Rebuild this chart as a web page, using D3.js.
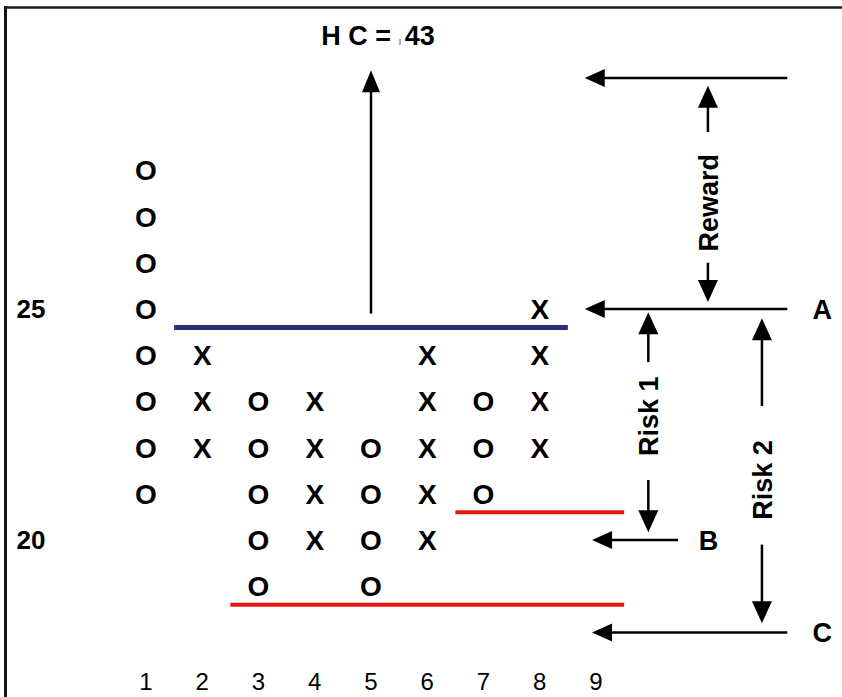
<!DOCTYPE html>
<html>
<head>
<meta charset="utf-8">
<script src="https://cdn.jsdelivr.net/npm/d3@7"></script>
<style>
  html, body { margin: 0; padding: 0; background: #fff; }
  svg { display: block; }
  .mark { font-family: Arial, "Liberation Sans", sans-serif; font-weight: bold; font-size: 28px; }
  .lbl { font-family: Arial, "Liberation Sans", sans-serif; font-weight: bold; }
  .xt { font-family: "Liberation Sans Narrow", "Arial Narrow", Arial, sans-serif; font-size: 24px; }
</style>
</head>
<body>
<div id="chart"></div>
<script>
// point & figure columns
const columns  = [1, 2, 3, 4, 5, 6, 7, 8];
const colType  = ["O", "X", "O", "X", "O", "X", "O", "X"];
const colHigh  = [28, 24, 23, 23, 22, 24, 23, 25];
const colLow   = [21, 22, 19, 20, 19, 20, 21, 22];

const xTicks = [1, 2, 3, 4, 5, 6, 7, 8, 9];
const yTicks = [25, 20];

// trend lines (column units / price units)
const lineFrom  = [1.5, 6.5, 2.5];
const lineTo    = [8.5, 9.5, 9.5];
const linePrice = [24.6, 20.6, 18.6];

// target levels on the right
const levelName  = ["", "A", "B", "C"];
const levelPrice = [30, 25, 20, 18];
const levelTip   = [8.8, 8.8, 8.93, 8.93];
const levelEnd   = [12.4, 12.4, 10.46, 12.4];
const levelLabX  = [0, 13.02, 11, 13.02];

// measuring arrows: col, up tip, up end, text middle, down start, down tip
const measName = ["Reward", "Risk 1", "Risk 2"];
const measCol  = [10.99, 9.93, 11.95];
const measUp   = [29.83, 24.93, 24.8];
const measUpE  = [28.83, 23.85, 22.9];
const measMid  = [27.3, 22.68, 21.3];
const measDn   = [26.0, 21.3, 19.9];
const measDnT  = [25.15, 20.17, 18.2];

const hcCol = 5, hcFrom = 24.9, hcTo = 30.17;
const hcText = "43";

const W = 842, H = 697;
const svg = d3.select("#chart").append("svg").attr("width", W).attr("height", H);

const x = d3.scaleLinear().domain([1, 9]).range([146, 596]);
const y = d3.scaleLinear().domain([20, 25]).range([540, 309]);

// frame
svg.append("line").attr("x1", 4).attr("x2", W).attr("y1", 7.5).attr("y2", 7.5)
  .attr("stroke", "#1e1e1e").attr("stroke-width", 2.5);
svg.append("line").attr("x1", 5.5).attr("x2", 5.5).attr("y1", 6).attr("y2", H)
  .attr("stroke", "#141414").attr("stroke-width", 3);

function head(g, px, py, dir, len, half) {
  let pts;
  if (dir === "up") pts = [[px, py], [px - half, py + len], [px + half, py + len]];
  else if (dir === "down") pts = [[px, py], [px - half, py - len], [px + half, py - len]];
  else pts = [[px, py], [px + len, py - half], [px + len, py + half]];
  g.append("path").attr("d", d3.line()(pts) + "Z").attr("fill", "#000");
}

// trend lines
const lineColor = ["#2b2b78", "#e8160f", "#e8160f"];
const lineW = [5, 4, 4];
linePrice.forEach((p, i) => {
  svg.append("line")
    .attr("x1", x(lineFrom[i])).attr("x2", x(lineTo[i]))
    .attr("y1", y(p)).attr("y2", y(p))
    .attr("stroke", lineColor[i]).attr("stroke-width", lineW[i]);
});

// boxes
const boxes = [];
columns.forEach((c, i) => {
  for (let p = colLow[i]; p <= colHigh[i]; p++) boxes.push({ c: c, p: p, t: colType[i] });
});
svg.append("g").selectAll("text").data(boxes).join("text")
  .attr("class", "mark")
  .attr("x", d => x(d.c)).attr("y", d => y(d.p))
  .attr("text-anchor", "middle").attr("dy", "0.36em")
  .text(d => d.t);

// axis labels
svg.append("g").selectAll("text").data(xTicks).join("text")
  .attr("class", "xt")
  .attr("x", d => x(d)).attr("y", 690)
  .attr("text-anchor", "middle")
  .text(d => d);
svg.append("g").selectAll("text").data(yTicks).join("text")
  .attr("class", "lbl").style("font-size", "26px")
  .attr("x", 31).attr("y", d => y(d)).attr("dy", "0.36em")
  .attr("text-anchor", "middle")
  .text(d => d);

// horizontal count arrow
const g = svg.append("g");
g.append("line").attr("x1", x(hcCol)).attr("x2", x(hcCol))
  .attr("y1", y(hcFrom)).attr("y2", y(hcTo) + 15)
  .attr("stroke", "#000").attr("stroke-width", 2.5);
head(g, x(hcCol), y(hcTo), "up", 22, 9);
const t = svg.append("text").attr("class", "lbl").style("font-size", "27px")
  .attr("x", 378).attr("y", 45).attr("text-anchor", "middle");
t.append("tspan").text("H C =  ");
t.append("tspan").attr("fill", "#b09070").style("font-size", "11px").text("ı  ");
t.append("tspan").text(hcText);

// level arrows
levelPrice.forEach((p, i) => {
  const yy = y(p);
  g.append("line").attr("x1", x(levelTip[i]) + 10).attr("x2", x(levelEnd[i]))
    .attr("y1", yy).attr("y2", yy).attr("stroke", "#000").attr("stroke-width", 2.5);
  head(g, x(levelTip[i]), yy, "left", 20, 9);
  if (levelName[i]) {
    svg.append("text").attr("class", "lbl").style("font-size", "27px")
      .attr("x", x(levelLabX[i])).attr("y", yy).attr("dy", "0.36em")
      .attr("text-anchor", "middle").text(levelName[i]);
  }
});

// measuring arrows
measName.forEach((n, i) => {
  const xx = x(measCol[i]);
  g.append("line").attr("x1", xx).attr("x2", xx)
    .attr("y1", y(measUp[i]) + 12).attr("y2", y(measUpE[i]))
    .attr("stroke", "#000").attr("stroke-width", 2.5);
  head(g, xx, y(measUp[i]), "up", 22, 10);
  g.append("line").attr("x1", xx).attr("x2", xx)
    .attr("y1", y(measDn[i])).attr("y2", y(measDnT[i]) - 12)
    .attr("stroke", "#000").attr("stroke-width", 2.5);
  head(g, xx, y(measDnT[i]), "down", 22, 10);
  svg.append("text").attr("class", "lbl").style("font-size", "27px")
    .attr("transform", `translate(${xx},${y(measMid[i])}) rotate(-90)`)
    .attr("text-anchor", "middle").attr("dy", "0.36em")
    .text(n);
});
</script>
</body>
</html>
